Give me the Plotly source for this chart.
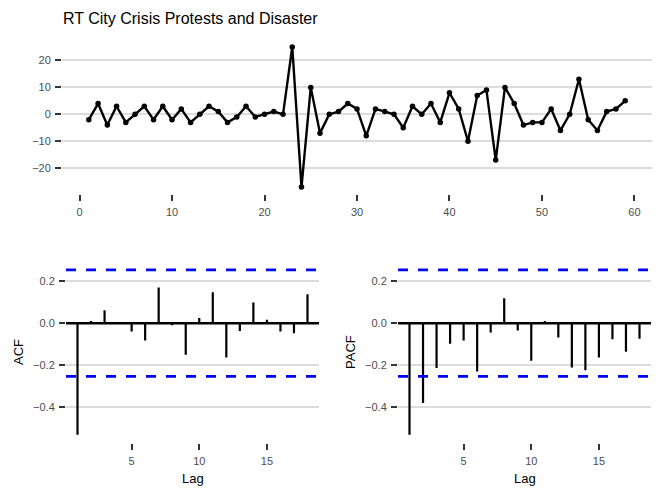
import numpy as np
import plotly.graph_objects as go

# ---- data ----
time_index = list(range(1, 60))
series_values = [-2, 4, -4, 3, -3, 0, 3, -2, 3, -2, 2, -3, 0, 3, 1, -3, -1, 3, -1, 0,
                 1, 0, 25, -27, 10, -7, 0, 1, 4, 2, -8, 2, 1, 0, -5, 3, 0, 4, -3, 8,
                 2, -10, 7, 9, -17, 10, 4, -4, -3, -3, 2, -6, 0, 13, -2, -6, 1, 2, 5]

lags = list(range(1, 19))
acf_values = [-0.534, 0.010, 0.062, 0.002, -0.040, -0.083, 0.171, -0.010, -0.151,
              0.025, 0.148, -0.164, -0.037, 0.099, 0.016, -0.040, -0.048, 0.139]
pacf_values = [-0.534, -0.382, -0.215, -0.099, -0.083, -0.231, -0.045, 0.120, -0.035,
               -0.180, 0.010, -0.069, -0.212, -0.226, -0.164, -0.077, -0.137, -0.075]

title_text = "RT City Crisis Protests and Disaster"
ci_limit = 1.96 / np.sqrt(len(series_values))

# the page body keeps an 8px margin, so the figure is drawn 16px smaller
# and every reference pixel position is shifted by OFF
OFF = 8
W, H = 664 - 2 * OFF, 498 - 2 * OFF
FONT = "Liberation Sans, Arial, sans-serif"
GRID = "#dcdcdc"
TICK = "#333333"
LABEL = "#4d4d4d"


def xdom(left, right):
    return [(left - OFF) / W, (right - OFF) / W]


def ydom(top, bottom):
    return [1 - (bottom - OFF) / H, 1 - (top - OFF) / H]


def px(x):
    return (x - OFF) / W


def py(y):
    return 1 - (y - OFF) / H


def stems(x, y):
    """Builds the segment list (0 -> value) for a correlogram"""
    xs, ys = [], []
    for a, b in zip(x, y):
        xs += [a, a, None]
        ys += [0, b, None]
    return xs, ys


fig = go.Figure()

# Top: time series
fig.add_trace(go.Scatter(
    x=time_index, y=series_values, mode="lines+markers",
    line=dict(color="black", width=2.4), marker=dict(color="black", size=5.5),
    xaxis="x", yaxis="y", showlegend=False
))

# Bottom panels: ACF and PACF
for vals, xa, ya, xr in [(acf_values, "x2", "y2", (0.15, 18.85)),
                         (pacf_values, "x3", "y3", (0.15, 18.85))]:
    # zero line
    fig.add_trace(go.Scatter(x=list(xr), y=[0, 0], mode="lines",
                             line=dict(color="black", width=2.5),
                             xaxis=xa, yaxis=ya, showlegend=False))
    sx, sy = stems(lags, vals)
    fig.add_trace(go.Scatter(x=sx, y=sy, mode="lines",
                             line=dict(color="black", width=2.2),
                             xaxis=xa, yaxis=ya, showlegend=False))
    for c in (ci_limit, -ci_limit):
        fig.add_trace(go.Scatter(x=list(xr), y=[c, c], mode="lines",
                                 line=dict(color="blue", width=2.7, dash="10px,10px"),
                                 xaxis=xa, yaxis=ya, showlegend=False))

axis_common = dict(
    ticks="outside", ticklen=6, tickwidth=2, tickcolor=TICK,
    tickfont=dict(family=FONT, size=11, color=LABEL),
    ticklabelstandoff=2,
    showline=False, zeroline=False,
)

fig.update_layout(
    width=W, height=H,
    margin=dict(l=0, r=0, t=0, b=0),
    paper_bgcolor="white", plot_bgcolor="white",
    font=dict(family=FONT, color="black"),
    title=dict(text=title_text, x=px(63), xanchor="left", y=py(18), yanchor="middle",
               font=dict(family=FONT, size=16, color="black")),
    xaxis=dict(domain=xdom(62, 652), range=[-1.9, 61.9], tickvals=[0, 10, 20, 30, 40, 50, 60],
               showgrid=False, anchor="y", **axis_common),
    yaxis=dict(domain=ydom(40, 194), range=[-29.6, 27.6], tickvals=[-20, -10, 0, 10, 20],
               showgrid=True, gridcolor=GRID, gridwidth=2, anchor="x", **axis_common),
    xaxis2=dict(domain=xdom(66, 319), range=[0.15, 18.85], tickvals=[5, 10, 15],
                showgrid=False, anchor="y2", **axis_common),
    yaxis2=dict(domain=ydom(261.6, 443), range=[-0.574, 0.295], tickvals=[-0.4, -0.2, 0.0, 0.2],
                tickformat=".1f", showgrid=True, gridcolor=GRID, gridwidth=2, anchor="x2",
                **axis_common),
    xaxis3=dict(domain=xdom(398, 651), range=[0.15, 18.85], tickvals=[5, 10, 15],
                showgrid=False, anchor="y3", **axis_common),
    yaxis3=dict(domain=ydom(261.6, 443), range=[-0.574, 0.295], tickvals=[-0.4, -0.2, 0.0, 0.2],
                tickformat=".1f", showgrid=True, gridcolor=GRID, gridwidth=2, anchor="x3",
                **axis_common),
)

# axis titles
title_font = dict(family=FONT, size=13, color="black")
annotations = [
    dict(text="ACF", x=px(18), y=py(352), textangle=-90),
    dict(text="PACF", x=px(350), y=py(352), textangle=-90),
    dict(text="Lag", x=px(192.5), y=py(478), textangle=0),
    dict(text="Lag", x=px(524.5), y=py(478), textangle=0),
]
for a in annotations:
    fig.add_annotation(xref="paper", yref="paper", showarrow=False,
                       xanchor="center", yanchor="middle", font=title_font, **a)

fig.write_html("out.html")
